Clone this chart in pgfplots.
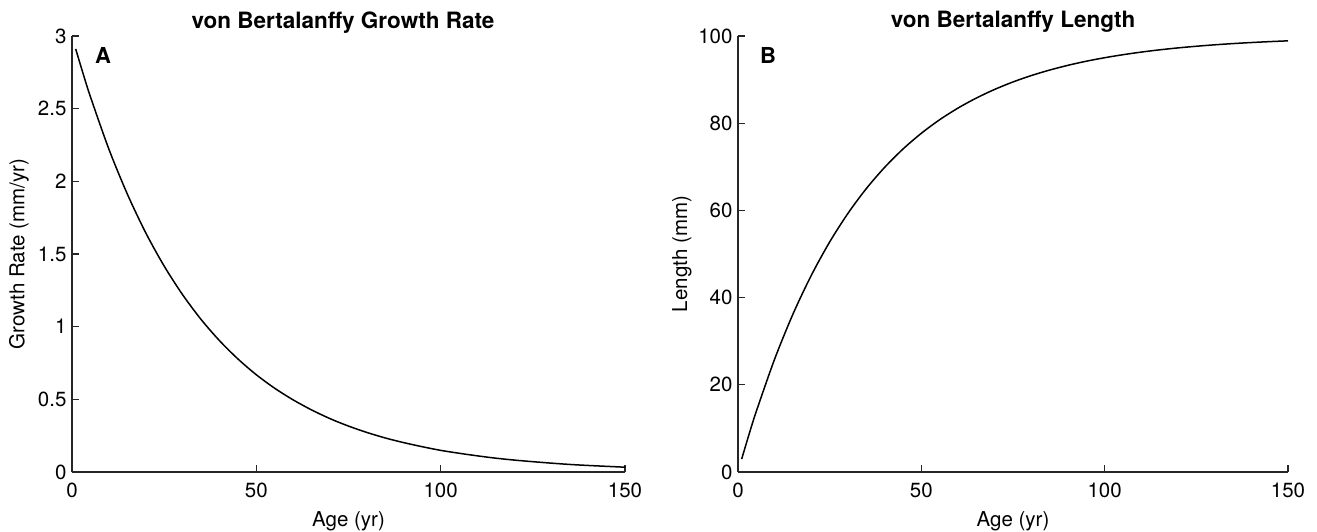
\documentclass[border=0pt]{standalone}
\usepackage{pgfplots}
\pgfplotsset{compat=1.18}
\usepackage{fontspec}
\setmainfont{TeX Gyre Heros}
\definecolor{axgray}{gray}{0.15}
\pgfplotsset{
  vbstyle/.style={
    scale only axis,
    height=436pt,
    axis lines=left,
    axis line style={-, line width=1.1pt, axgray},
    every tick/.style={line width=1.1pt, axgray},
    tick align=inside,
    major tick length=7pt,
    xmin=0, xmax=150,
    ymin=0,
    xtick={0,50,100,150},
    /pgf/number format/assume math mode=true,
    tick label style={font=\fontsize{20.5}{24}\selectfont, color=black},
    xticklabel style={yshift=-7pt},
    yticklabel style={xshift=-2pt},
    label style={font=\fontsize{20.5}{24}\selectfont},
    xlabel style={at={(axis description cs:0.5,0)}, anchor=base, yshift=-54pt},
    clip=false,
  }
}
\begin{document}
\begin{tikzpicture}[x=1pt,y=1pt]
\path[use as bounding box] (0,0) rectangle (1317,531);
% Panel A
\begin{axis}[vbstyle,
  at={(72pt,59pt)}, anchor=south west,
  width=553pt,
  ymax=3,
  ytick={0,0.5,1,1.5,2,2.5,3},
  yticklabels={0,0.5,1,1.5,2,2.5,3},
  xlabel={Age (yr)},
  ylabel={Growth Rate (mm/yr)},
  ylabel style={at={(axis description cs:-0.096,0.5)}, anchor=center},
]
\addplot[black, line width=1.5pt, smooth] coordinates {
(1,2.911) (3,2.742) (5,2.582) (10,2.222) (15,1.913) (20,1.646) (25,1.417)
(30,1.220) (35,1.050) (40,0.904) (45,0.778) (50,0.669) (55,0.576) (60,0.496)
(65,0.427) (70,0.367) (75,0.316) (80,0.272) (85,0.234) (90,0.202) (95,0.174)
(100,0.149) (105,0.129) (110,0.111) (115,0.095) (120,0.082) (125,0.071)
(130,0.061) (135,0.052) (140,0.045) (145,0.039) (150,0.033)
};
\node[font=\fontsize{22}{26}\selectfont\bfseries] at (rel axis cs:0.056,0.956) {A};
\node[font=\fontsize{22.5}{26}\selectfont\bfseries, anchor=base] at (rel axis cs:0.49,1) [yshift=8pt] {von Bertalanffy Growth Rate};
\end{axis}
% Panel B
\begin{axis}[vbstyle,
  at={(738pt,59pt)}, anchor=south west,
  width=550pt,
  ymax=100,
  ytick={0,20,40,60,80,100},
  xlabel={Age (yr)},
  ylabel={Length (mm)},
  ylabel style={at={(axis description cs:-0.102,0.5)}, anchor=center},
]
\addplot[black, line width=1.5pt, smooth] coordinates {
(1,2.96) (3,8.61) (5,13.93) (10,25.92) (15,36.24) (20,45.12) (25,52.76)
(30,59.34) (35,65.01) (40,69.88) (45,74.08) (50,77.69) (55,80.80) (60,83.47)
(65,85.77) (70,87.75) (75,89.46) (80,90.93) (85,92.19) (90,93.28) (95,94.22)
(100,95.02) (105,95.71) (110,96.31) (115,96.83) (120,97.27) (125,97.65)
(130,97.98) (135,98.26) (140,98.50) (145,98.71) (150,98.89)
};
\node[font=\fontsize{22}{26}\selectfont\bfseries] at (rel axis cs:0.0545,0.956) {B};
\node[font=\fontsize{22.5}{26}\selectfont\bfseries, anchor=base] at (rel axis cs:0.5,1) [yshift=8pt] {von Bertalanffy Length};
\end{axis}
\end{tikzpicture}
\end{document}
